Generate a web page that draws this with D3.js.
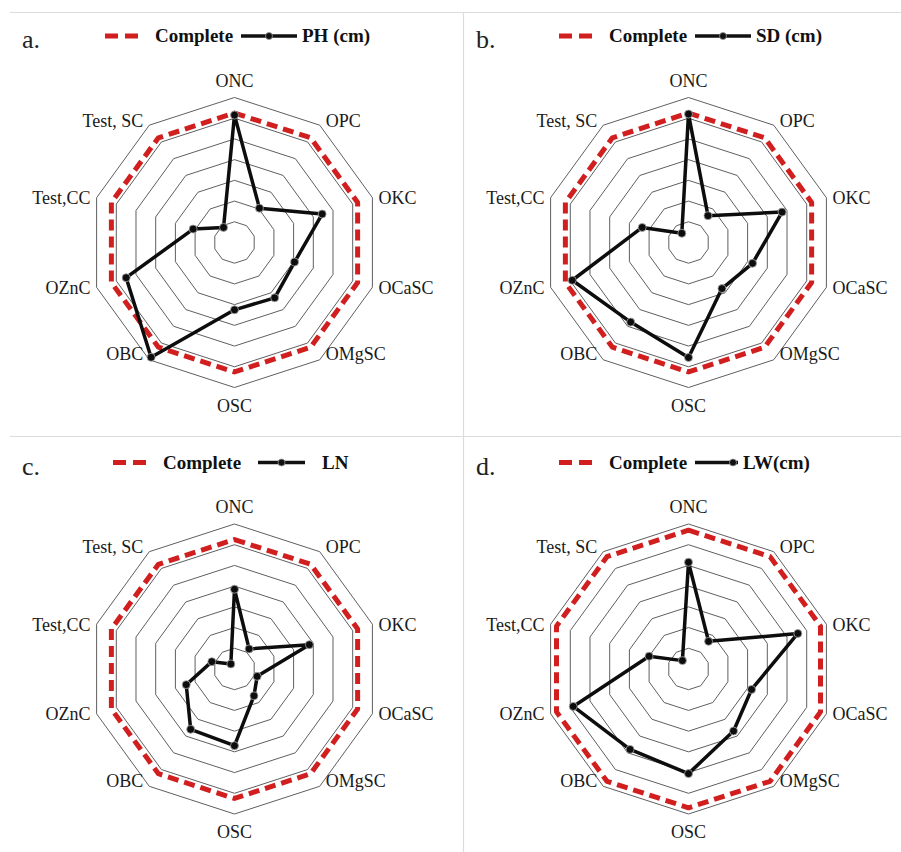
<!DOCTYPE html>
<html lang="en">
  <head>
    <meta charset="UTF-8" />
    <title>Radar charts</title>
    <script src="https://cdn.jsdelivr.net/npm/d3@7"></script>
    <style>
      body { margin: 0; background: #fff; }
      text { font-family: "Liberation Serif", "Times New Roman", serif; }
    </style>
  </head>
  <body>
    <div id="chart"></div>
    <script>
      // categories, clockwise from the top
      const categories = ["ONC", "OPC", "OKC", "OCaSC", "OMgSC", "OSC", "OBC", "OZnC", "Test,CC", "Test, SC"];
      const ringTicks = [20, 40, 60, 80, 100, 120, 140];

      // series (axis 0..140)
      const phValues = [123, 41, 89, 61, 66, 65, 137, 110, 42, 18];
      const sdValues = [124, 32, 95, 65, 55, 111, 95, 118, 47, 11];
      const lnValues = [77, 24, 76, 23, 32, 74, 72, 49, 23, 6];
      const lwValues = [103, 33, 111, 64, 74, 101, 96, 117, 40, 10];
      const completeA = [125, 125, 125, 125, 125, 125, 125, 125, 125, 125];
      const completeB = [125, 125, 125, 125, 125, 125, 125, 125, 125, 125];
      const completeC = [125, 125, 125, 125, 125, 125, 125, 125, 125, 125];
      const completeD = [134, 134, 134, 134, 134, 134, 134, 134, 134, 134];

      const panels = [
        { letter: "a.", name: "PH (cm)", values: phValues, complete: completeA, x: 0, y: 0, legendDx: 0, shortMarker: false },
        { letter: "b.", name: "SD (cm)", values: sdValues, complete: completeB, x: 454, y: 0, legendDx: 0, shortMarker: false },
        { letter: "c.", name: "LN", values: lnValues, complete: completeC, x: 0, y: 426.5, legendDx: 8, shortMarker: false },
        { letter: "d.", name: "LW(cm)", values: lwValues, complete: completeD, x: 454, y: 426.5, legendDx: 0, shortMarker: true }
      ];

      const width = 901, height = 852;
      const cx = 234.5, cy = 242.5, R = 145;
      const n = categories.length;

      const svg = d3.select("#chart").append("svg")
        .attr("width", width)
        .attr("height", height);

      // panel frame lines
      const frame = svg.append("g").attr("stroke", "#dcdcdc").attr("stroke-width", 1.2);
      frame.append("line").attr("x1", 10).attr("x2", width).attr("y1", 12.5).attr("y2", 12.5);
      frame.append("line").attr("x1", 10).attr("x2", width).attr("y1", 436.5).attr("y2", 436.5);
      frame.append("line").attr("x1", 463.5).attr("x2", 463.5).attr("y1", 12.5).attr("y2", height);

      const r = d3.scaleLinear().domain([0, 140]).range([0, R]);
      const angle = d3.scaleLinear().domain([0, n]).range([0, 2 * Math.PI]);

      const radarLine = d3.lineRadial()
        .angle((d, i) => angle(i))
        .radius(d => r(d))
        .curve(d3.curveLinearClosed);

      panels.forEach(p => {
        const g = svg.append("g").attr("transform", `translate(${p.x},${p.y})`);

        // panel letter
        g.append("text")
          .attr("x", 22).attr("y", 48)
          .attr("font-size", 26)
          .attr("fill", "#222")
          .text(p.letter);

        // legend
        const lg = g.append("g").attr("transform", `translate(${p.legendDx},36)`);
        lg.append("line")
          .attr("x1", 105).attr("x2", 138).attr("y1", 0).attr("y2", 0)
          .attr("stroke", "#d11f1f").attr("stroke-width", 5)
          .attr("stroke-dasharray", "13,7");
        lg.append("text")
          .attr("x", 155).attr("y", 6)
          .attr("font-size", 19).attr("font-weight", "bold")
          .attr("fill", "#111")
          .text("Complete");
        const mx1 = p.name === "LN" ? 250 : 241;
        const mx2 = p.shortMarker ? 284 : 297;
        const mdot = p.shortMarker ? 279 : (mx1 + mx2) / 2;
        lg.append("line")
          .attr("x1", mx1).attr("x2", mx2).attr("y1", 0).attr("y2", 0)
          .attr("stroke", "#111").attr("stroke-width", 3.5);
        lg.append("circle")
          .attr("cx", mdot).attr("cy", 0).attr("r", 3.5)
          .attr("fill", "#111").attr("stroke", "#999").attr("stroke-width", 0.8);
        lg.append("text")
          .attr("x", p.shortMarker ? 289 : (p.name === "LN" ? 314 : 302)).attr("y", 6)
          .attr("font-size", 19).attr("font-weight", "bold")
          .attr("fill", "#111")
          .text(p.name);

        const chart = g.append("g").attr("transform", `translate(${cx},${cy})`);

        // concentric decagons
        chart.selectAll("path.ring")
          .data(ringTicks)
          .enter()
          .append("path")
          .attr("class", "ring")
          .attr("d", t => radarLine(d3.range(n).map(() => t)))
          .attr("fill", "none")
          .attr("stroke", "#5f5f5f")
          .attr("stroke-width", 1);

        // category labels
        chart.selectAll("text.cat")
          .data(categories)
          .enter()
          .append("text")
          .attr("class", "cat")
          .attr("font-size", 18)
          .attr("fill", "#1a1a1a")
          .attr("text-anchor", (d, i) => {
            const s = Math.sin(angle(i));
            return s > 0.1 ? "start" : s < -0.1 ? "end" : "middle";
          })
          .attr("x", (d, i) => {
            const s = Math.sin(angle(i));
            const vx = r(140) * s;
            return s > 0.1 ? vx + 6 : s < -0.1 ? vx - 6 : vx;
          })
          .attr("y", (d, i) => {
            const c = Math.cos(angle(i));
            const vy = -r(140) * c;
            let y;
            if (c > 0.9) y = vy - 17;
            else if (c < -0.9) y = vy + 18;
            else if (c > 0.5) y = vy - 5;
            else if (c < -0.5) y = vy - 6;
            else y = vy;
            return y;
          })
          .attr("dy", "0.35em")
          .text(d => d);

        // Complete series (red dashed)
        chart.append("path")
          .attr("d", radarLine(p.complete))
          .attr("fill", "none")
          .attr("stroke", "#d11f1f")
          .attr("stroke-width", 5)
          .attr("stroke-dasharray", "11,6")
          .attr("stroke-linejoin", "round");

        // measured series
        chart.append("path")
          .attr("d", radarLine(p.values))
          .attr("fill", "none")
          .attr("stroke", "#0d0d0d")
          .attr("stroke-width", 3.5)
          .attr("stroke-linejoin", "round");

        chart.selectAll("circle.pt")
          .data(p.values)
          .enter()
          .append("circle")
          .attr("class", "pt")
          .attr("cx", (d, i) => r(d) * Math.sin(angle(i)))
          .attr("cy", (d, i) => -r(d) * Math.cos(angle(i)))
          .attr("r", 4)
          .attr("fill", "#0d0d0d")
          .attr("stroke", "#aaa")
          .attr("stroke-width", 0.8);
      });
    </script>
  </body>
</html>
